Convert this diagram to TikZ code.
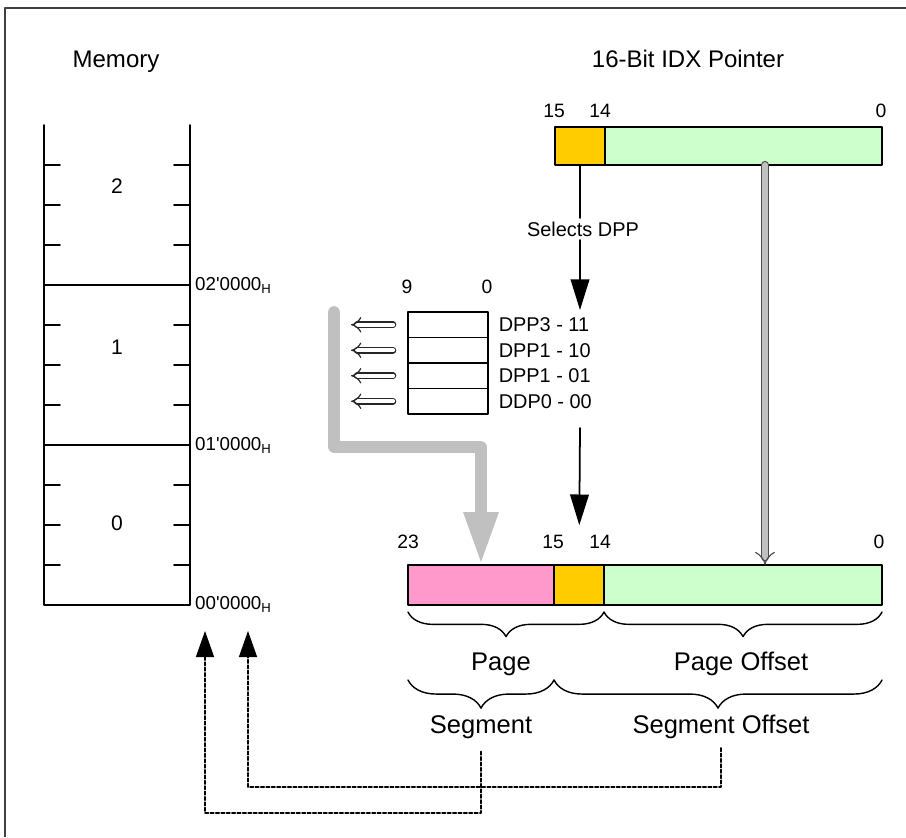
\documentclass[tikz,border=0pt]{standalone}
\usepackage{fontspec}
\setmainfont{Liberation Sans}
\usepackage{tikz}
\usetikzlibrary{arrows.meta, positioning, calc, decorations.pathreplacing}
\definecolor{pagepink}{HTML}{FF99CC}
\definecolor{dppyellow}{HTML}{FFCC00}
\definecolor{offsetgreen}{HTML}{CCFFCC}
\definecolor{arrowgray}{HTML}{C0C0C0}
\definecolor{framegray}{HTML}{404040}

\begin{document}
\begin{tikzpicture}[x=0.03cm, y=-0.03cm, line cap=round, line join=round,
    field/.style={draw=black, line width=1.6pt, inner sep=0pt, outer sep=0pt},
    dppbox/.style={draw=black, line width=1pt, minimum width=2.4cm, minimum height=0.765cm, inner sep=0pt, outer sep=0pt},
    heading/.style={font=\fontsize{20.5}{20.5}\selectfont, anchor=base, inner sep=0pt},
    bitnum/.style={font=\fontsize{16.5}{16.5}\selectfont, anchor=base, inner sep=0pt},
    dpplbl/.style={font=\fontsize{17}{17}\selectfont, anchor=west, inner sep=0pt},
    memlbl/.style={font=\fontsize{18}{18}\selectfont, inner sep=0pt},
    addrlbl/.style={font=\fontsize{16}{16}\selectfont, anchor=mid west, inner sep=0pt},
    bracelbl/.style={font=\fontsize{21.8}{21.8}\selectfont, anchor=base, inner sep=2pt},
    fieldbrace/.style={line width=1.2pt, decorate, decoration={brace, amplitude=#1}},
    selarrow/.style={line width=1.5pt, -{Triangle[length=0.92cm, width=0.56cm]}},
    hollowarrow/.style={draw=black!85, line width=1pt, double, double distance=3.6pt, -{Implies}},
    offsetlink/.style={draw=black!70, line width=1pt, double=arrowgray, double distance=5pt, -{Implies}},
    grayarrow/.style={draw=arrowgray, line width=10pt, -{Triangle[length=1.59cm, width=0.96cm]}},
    dashlink/.style={line width=1.2pt, dash pattern=on 3pt off 1.6pt, -{Triangle[length=0.78cm, width=0.54cm]}}]
  \useasboundingbox (0,0) rectangle (906,837);

  % Rahmen
  \draw[framegray, line width=1.6pt, line cap=butt] (5,837) -- (5,8) -- (906,8);

  % Titel
  \node[heading] (memtitle) at (116,67) {Memory};
  \node[heading] (idxtitle) at (688,67) {16-Bit IDX Pointer};

  % Speicher
  \draw[line width=1.6pt] (44,125) -- (44,605) -- (190,605) -- (190,125);
  \draw[line width=1.6pt] (44,285) -- (190,285);
  \draw[line width=1.1pt] (44,445) -- (190,445);
  \foreach \y in {165,205,245,325,365,405,485,525,565} {
    \draw[line width=1.4pt] (44,\y) -- (60,\y);
    \draw[line width=1.4pt] (174,\y) -- (190,\y);
  }
  \node[memlbl] (segtwo) at (117,186) {2};
  \node[memlbl] (segone) at (117,347) {1};
  \node[memlbl] (segzero) at (117,523) {0};
  \node[addrlbl] (addrtwo) at (195,287) {02\textquotesingle 0000\textsubscript{H}};
  \node[addrlbl] (addrone) at (195,447) {01\textquotesingle 0000\textsubscript{H}};
  \node[addrlbl] (addrzero) at (195,606) {00\textquotesingle 0000\textsubscript{H}};

  % 16-Bit IDX Pointer
  \node[field, fill=dppyellow, minimum width=1.5cm, minimum height=1.14cm, anchor=north west] (idxsel) at (555,127) {};
  \node[field, fill=offsetgreen, minimum width=8.31cm, minimum height=1.14cm, right=0pt of idxsel] (idxoff) {};
  \node[bitnum] (idxfifteen) at (554,117) {15};
  \node[bitnum] (idxfourteen) at (600,117) {14};
  \node[bitnum] (idxzero) at (881,117) {0};

  % DPP-Register
  \node[dppbox, anchor=north west] (dppa) at (408,312) {};
  \node[dppbox, below=0pt of dppa] (dppb) {};
  \node[dppbox, below=0pt of dppb] (dppc) {};
  \node[dppbox, below=0pt of dppc] (dppd) {};
  \node[bitnum] (dppnine) at (407,293) {9};
  \node[bitnum] (dppzero) at (487,293) {0};
  \node[dpplbl, right=9pt of dppa] (dppalbl) {DPP3 - 11};
  \node[dpplbl, right=9pt of dppb] (dppblbl) {DPP1 - 10};
  \node[dpplbl, right=9pt of dppc] (dppclbl) {DPP1 - 01};
  \node[dpplbl, right=9pt of dppd] (dppdlbl) {DDP0 - 00};
  \foreach \r in {dppa,dppb,dppc,dppd}
    \draw[hollowarrow] ($(\r.west)+(-15,0)$) -- ++(-42,0);

  % 24-Bit Adresse
  \node[field, fill=pagepink, minimum width=4.38cm, minimum height=1.2cm, anchor=north west] (pagefld) at (408,565) {};
  \node[field, fill=dppyellow, minimum width=1.5cm, minimum height=1.2cm, right=0pt of pagefld] (selfld) {};
  \node[field, fill=offsetgreen, minimum width=8.34cm, minimum height=1.2cm, right=0pt of selfld] (offfld) {};
  \node[bitnum] (adrtwentythree) at (408,548) {23};
  \node[bitnum] (adrfifteen) at (553,548) {15};
  \node[bitnum] (adrfourteen) at (600,548) {14};
  \node[bitnum] (adrzero) at (879,548) {0};

  % Klammern
  \draw[fieldbrace=21pt] ([yshift=-6pt]selfld.south east) -- ([yshift=-6pt]pagefld.south west);
  \draw[fieldbrace=21pt] ([yshift=-6pt]offfld.south east) -- ([yshift=-6pt]selfld.south east);
  \draw[fieldbrace=24pt] ([yshift=-64pt]pagefld.south east) -- ([yshift=-64pt]pagefld.south west);
  \draw[fieldbrace=24pt] ([yshift=-64pt]offfld.south east) -- ([yshift=-64pt]pagefld.south east);
  \node[bracelbl] (pagelbl) at (501,670) {Page};
  \node[bracelbl] (pageofflbl) at (741,670) {Page Offset};
  \node[bracelbl] (seglbl) at (481,733) {Segment};
  \node[bracelbl] (segofflbl) at (721,733) {Segment Offset};

  % Pfeile
  \coordinate (dppin) at (580,310);
  \coordinate (dppout) at (580,428);
  \node[dpplbl, anchor=center, inner sep=3pt] (selects) at (583,229) {Selects DPP};
  \draw[line width=1.5pt] (idxsel.south) -- (idxsel.south |- selects.north);
  \draw[selarrow] (idxsel.south |- selects.south) -- (dppin);
  \draw[selarrow, shorten >=34pt] (dppout) -- (selfld.north);

  \coordinate (offtop) at ($(idxoff.south west)+(160,0)$);
  \draw[offsetlink] (offtop) -- (offtop |- offfld.north);

  \coordinate (graystart) at (334,312);
  \coordinate (graybend) at (481,447);
  \draw[grayarrow] (graystart) |- (graybend) -- (pagefld.north);

  \coordinate (segcorner) at (205,813);
  \coordinate (segtip) at (205,631);
  \coordinate (offcorner) at (248,787);
  \coordinate (offtip) at (248,631);
  \draw[dashlink, shorten <=9pt] (seglbl.south) |- (segcorner) -- (segtip);
  \draw[dashlink, shorten <=6pt] (segofflbl.south) |- (offcorner) -- (offtip);
\end{tikzpicture}
\end{document}
